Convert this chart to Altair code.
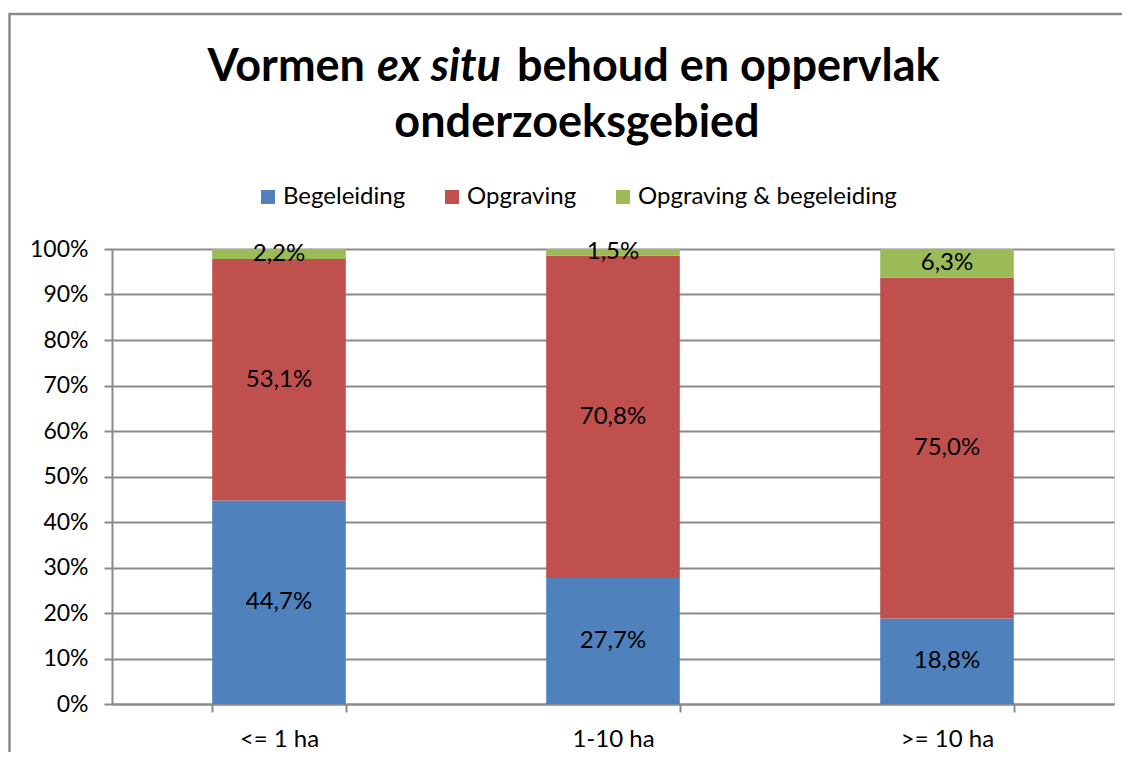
import altair as alt
import pandas as pd

categories = ["<= 1 ha", "1-10 ha", ">= 10 ha"]
series = ["Begeleiding", "Opgraving", "Opgraving & begeleiding"]
begeleiding = [44.7, 27.7, 18.8]
opgraving = [53.1, 70.8, 75.0]
opgraving_begeleiding = [2.2, 1.5, 6.3]
colors = ["#4F81BD", "#C0504D", "#9BBB59"]
y_ticks = [0, 0.1, 0.2, 0.3, 0.4, 0.5, 0.6, 0.7, 0.8, 0.9, 1.0]

rows = []
for ci, c in enumerate(categories):
    for si, (s, vals) in enumerate(zip(series, [begeleiding, opgraving, opgraving_begeleiding])):
        rows.append({"cat": c, "series": s, "idx": si, "value": vals[ci]})
df = pd.DataFrame(rows)

FONT = "Lato"
GRAY = "#8a8a8a"
W, H = 1002, 455
OX, OY = 112, 249  # plot origin on the page

x_enc = alt.X("cat:N", sort=categories, title=None,
              scale=alt.Scale(paddingInner=0.6, paddingOuter=0.3),
              axis=alt.Axis(labelAngle=0, tickBand="extent", tickSize=8, labelPadding=15,
                            labelFontSize=24, labelFont=FONT, labelColor="black",
                            domainColor=GRAY, tickColor=GRAY, domainWidth=2, tickWidth=2))

bars = alt.Chart(df).mark_bar().encode(
    x=x_enc,
    y=alt.Y("value:Q", stack="normalize", title=None,
            scale=alt.Scale(domain=[0, 1]),
            axis=alt.Axis(values=y_ticks, format=".0%", tickSize=8, labelPadding=16,
                          labelFontSize=23, labelFont=FONT, labelColor="black",
                          domainColor=GRAY, tickColor=GRAY, gridColor=GRAY, grid=True,
                          domainWidth=2, tickWidth=2, gridWidth=2)),
    color=alt.Color("series:N", scale=alt.Scale(domain=series, range=colors),
                    legend=alt.Legend(title=None, orient="none", direction="horizontal",
                                      legendX=256 - OX, legendY=185 - OY, symbolType="square",
                                      symbolSize=196, symbolStrokeWidth=0,
                                      labelFontSize=24, labelFont=FONT, labelColor="black",
                                      labelLimit=500, labelOffset=3, columnPadding=34,
                                      padding=0)),
    order=alt.Order("idx:Q", sort="ascending"),
)

labels = alt.Chart(df).transform_stack(
    stack="value", groupby=["cat"], as_=["y0", "y1"], offset="normalize",
    sort=[alt.SortField("idx", order="ascending")]
).transform_calculate(
    mid="(datum.y0 + datum.y1) / 2",
    lab="replace(format(datum.value, '.1f'), '.', ',') + '%'"
).mark_text(fontSize=24, font=FONT, color="black", baseline="middle").encode(
    x=alt.X("cat:N", sort=categories),
    y=alt.Y("mid:Q"),
    text="lab:N",
)

one = pd.DataFrame({"a": [0]})
TS = 45
title_parts = [
    alt.Chart(one).mark_text(text="Vormen", font=FONT, fontSize=TS, fontWeight="bold",
                             align="right", baseline="alphabetic", color="black")
    .encode(x=alt.value(365 - OX), y=alt.value(81 - OY)),
    alt.Chart(one).mark_text(text="ex situ", font=FONT, fontSize=TS, fontWeight="bold",
                             fontStyle="italic", align="center", baseline="alphabetic",
                             color="black")
    .encode(x=alt.value(439 - OX), y=alt.value(81 - OY)),
    alt.Chart(one).mark_text(text="behoud en oppervlak", font=FONT, fontSize=TS,
                             fontWeight="bold", align="left", baseline="alphabetic",
                             color="black")
    .encode(x=alt.value(517 - OX), y=alt.value(81 - OY)),
    alt.Chart(one).mark_text(text="onderzoeksgebied", font=FONT, fontSize=TS,
                             fontWeight="bold", align="center", baseline="alphabetic",
                             color="black")
    .encode(x=alt.value(577 - OX), y=alt.value(137 - OY)),
]

border = alt.Chart(one).mark_rect(fill="transparent", stroke=GRAY, strokeWidth=2.5).encode(
    x=alt.value(9.5 - OX), x2=alt.value(1160 - OX),
    y=alt.value(14 - OY), y2=alt.value(800 - OY))

chart = alt.layer(border, bars, labels, *title_parts).properties(
    width=W, height=H,
    autosize=alt.AutoSizeParams(type="none"),
    padding={"left": OX - 8, "top": OY - 8, "right": 8, "bottom": 48},
).configure_view(strokeWidth=0).configure(background="white")

chart.save("out.html", embed_options={"renderer": "svg", "actions": False})
